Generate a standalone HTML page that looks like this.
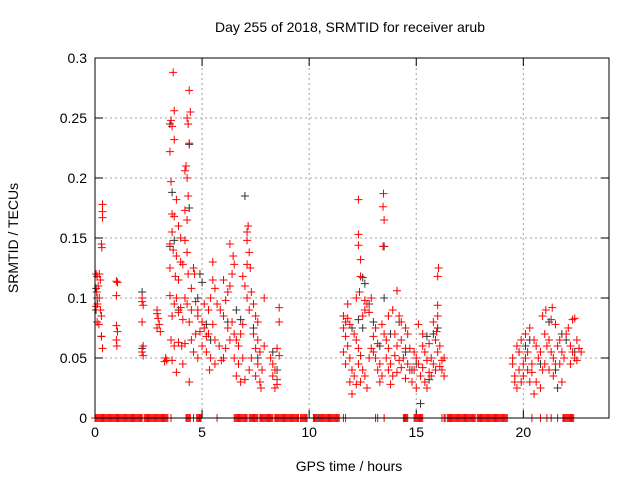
<!DOCTYPE html>
<html><head><meta charset="utf-8"><style>
body{margin:0;background:#fff;}
svg{display:block;font-family:"Liberation Sans",sans-serif;}
</style></head><body>
<svg id="chart" width="640" height="480" viewBox="0 0 640 480">
<rect x="0" y="0" width="640" height="480" fill="#fff"/>
<text x="350" y="32" font-size="14" text-anchor="middle">Day 255 of 2018, SRMTID for receiver arub</text>
<text transform="translate(18,238) rotate(-90)" font-size="14" text-anchor="middle">SRMTID / TECUs</text>
<text x="349" y="471" font-size="14" text-anchor="middle">GPS time / hours</text>
<g id="grid"></g><g id="ticks"></g><g id="marks"></g>
<rect x="95" y="58" width="514" height="360" fill="none" stroke="#000" stroke-width="1"/>
</svg>
<script>
const xTicks=[0,5,10,15,20];
const yTicks=[0,0.05,0.1,0.15,0.2,0.25,0.3];
const yTickLabels=["0","0.05","0.1","0.15","0.2","0.25","0.3"];
const redZeroX=[0,0.05,0.1,0.15,0.2,0.25,0.3,0.35,0.4,0.45,0.5,0.55,0.6,0.65,0.7,0.75,0.8,0.85,0.9,0.95,1.0,1.05,1.1,1.15,1.2,1.25,1.3,1.35,1.4,1.45,1.5,1.55,1.6,1.65,1.7,1.75,1.8,1.85,1.9,1.95,2.0,2.05,2.1,2.15,2.2,2.3,2.35,2.4,2.45,2.5,2.55,2.6,2.65,2.7,2.75,2.8,2.85,2.9,2.95,3.0,3.05,3.1,3.15,3.2,3.25,3.3,3.35,3.4,3.55,4.25,4.3,4.35,4.4,4.45,4.6,4.75,4.8,4.85,4.9,4.95,5.7,6.5,6.55,6.6,6.65,6.7,6.75,6.8,6.85,6.9,6.95,7.0,7.05,7.1,7.2,7.25,7.3,7.35,7.4,7.45,7.5,7.55,7.6,7.7,7.75,7.8,7.85,7.9,7.95,8.0,8.05,8.1,8.15,8.2,8.25,8.3,8.4,8.45,8.5,8.55,8.6,8.65,8.7,8.75,8.8,8.85,8.9,8.95,9.0,9.05,9.1,9.15,9.2,9.25,9.3,9.35,9.4,9.45,9.5,9.6,9.65,9.7,9.75,9.8,9.85,9.9,10.2,10.25,10.3,10.35,10.4,10.5,10.55,10.6,10.65,10.7,10.75,10.8,10.85,10.9,10.95,11.0,11.05,11.1,11.15,11.2,11.25,11.3,11.35,11.4,11.6,11.7,13.1,13.2,13.5,14.4,14.45,14.5,14.55,14.6,14.9,14.95,15.0,15.05,15.1,15.15,15.2,15.25,15.3,16.2,16.3,16.35,16.45,16.5,16.55,16.6,16.65,16.7,16.75,16.8,16.85,16.9,16.95,17.0,17.05,17.1,17.15,17.2,17.25,17.3,17.35,17.4,17.45,17.5,17.55,17.6,17.65,17.7,17.75,17.85,17.9,17.95,18.0,18.05,18.1,18.15,18.2,18.25,18.3,18.35,18.4,18.45,18.5,18.55,18.6,18.65,18.7,18.75,18.8,18.85,18.9,18.95,19.0,19.05,19.1,19.15,19.2,19.25,20.4,20.8,21.1,21.3,21.6,21.85,21.9,21.95,22.0,22.05,22.1,22.15,22.2,22.25,22.3,22.35];
const blackPts=[[0.05,0.108],[0.1,0.1],[0.3,0.068],[0.05,0.09],[2.2,0.105],[2.2,0.058],[3.5,0.245],[3.6,0.188],[3.5,0.143],[3.7,0.148],[4.4,0.228],[4.4,0.175],[3.9,0.09],[4.8,0.1],[4.9,0.12],[5.0,0.113],[5.2,0.078],[5.4,0.065],[6.2,0.08],[6.6,0.09],[6.8,0.082],[7.0,0.185],[7.4,0.075],[7.6,0.05],[8.3,0.055],[8.5,0.04],[12.3,0.082],[12.5,0.075],[12.5,0.117],[12.6,0.112],[12.8,0.095],[13.0,0.08],[13.3,0.06],[13.5,0.1],[13.5,0.143],[13.8,0.07],[14.2,0.08],[14.5,0.055],[15.0,0.045],[15.2,0.012],[15.5,0.068],[15.8,0.07],[16.0,0.075],[15.6,0.032],[12.0,0.075],[14.8,0.04],[19.8,0.055],[20.1,0.06],[20.3,0.065],[20.8,0.045],[21.5,0.04],[21.8,0.07],[22.0,0.065],[21.6,0.025],[21.2,0.08],[22.4,0.055],[4.85,0],[10.45,0]];
const redPts=[[0.05,0.12],[0.1,0.118],[0.15,0.11],[0.08,0.105],[0.2,0.1],[0.12,0.095],[0.25,0.09],[0.3,0.085],[0.18,0.078],[0.1,0.08],[0.3,0.068],[0.35,0.058],[0.35,0.178],[0.35,0.172],[0.35,0.167],[0.3,0.145],[0.32,0.142],[0.05,0.093],[0.2,0.12],[0.25,0.115],
[1.0,0.114],[1.05,0.113],[1.0,0.102],[1.0,0.077],[1.05,0.072],[1.0,0.065],[1.02,0.06],
[2.2,0.1],[2.2,0.097],[2.25,0.094],[2.2,0.08],[2.25,0.06],[2.2,0.055],[2.25,0.052],
[2.9,0.09],[2.9,0.087],[2.95,0.083],[3.0,0.078],[3.05,0.072],[2.9,0.075],[3.3,0.05],[3.25,0.047],[3.35,0.048],
[3.65,0.288],[4.4,0.273],[3.7,0.256],[4.45,0.255],[4.3,0.25],[4.35,0.245],[3.55,0.248],[3.6,0.243],[3.7,0.232],[4.4,0.229],[3.5,0.222],[4.25,0.21],[4.2,0.206],[4.3,0.2],[3.55,0.197],[3.8,0.182],[4.35,0.185],[3.6,0.17],[3.7,0.168],[4.2,0.173],[4.3,0.165],[3.9,0.16],[3.6,0.155],[4.0,0.15],[4.2,0.148],[3.5,0.145],[3.65,0.14],[3.8,0.135],[4.3,0.138],[4.0,0.13],[4.1,0.128],[3.5,0.125],[3.75,0.118],[4.35,0.12],[3.9,0.115],[4.6,0.125],[4.65,0.12],[4.5,0.108],[4.2,0.1],[3.8,0.1],[3.5,0.102],[3.7,0.095],[4.0,0.092],[4.3,0.095],[4.5,0.09],[4.7,0.097],[4.8,0.09],[3.6,0.085],[3.9,0.088],[4.1,0.082],[4.4,0.08],[4.8,0.085],[5.0,0.08],[3.55,0.065],[3.7,0.06],[3.9,0.063],[4.05,0.06],[4.2,0.062],[4.5,0.065],[4.7,0.07],[4.9,0.072],[5.1,0.075],[5.3,0.07],[3.6,0.048],[3.8,0.038],[4.1,0.045],[4.4,0.03],[4.6,0.055],[4.8,0.05],[5.0,0.06],[5.2,0.055],[5.4,0.05],[5.6,0.045],[5.2,0.068],[5.5,0.078],[5.6,0.065],[5.8,0.06],[5.9,0.048],[6.0,0.05],[5.35,0.04],[5.4,0.1],[5.5,0.13],[5.5,0.115],[5.6,0.108],[5.7,0.095],[5.85,0.09],[5.3,0.09],[5.1,0.095],[6.0,0.115],[6.1,0.098],[6.2,0.105],[6.3,0.11],[6.4,0.12],[6.5,0.128],[6.45,0.135],[6.3,0.145],[6.0,0.085],[6.2,0.075],[6.4,0.08],[6.5,0.07],[6.6,0.065],[6.7,0.06],[6.8,0.07],[6.9,0.078],[6.3,0.065],[6.1,0.058],[6.5,0.05],[6.7,0.045],[6.9,0.05],[6.6,0.035],[6.8,0.03],[7.0,0.032],[7.2,0.04],[7.1,0.155],[7.15,0.16],[7.1,0.148],[7.2,0.138],[7.1,0.128],[7.25,0.125],[6.9,0.118],[7.0,0.11],[7.1,0.1],[7.3,0.105],[7.4,0.095],[7.2,0.09],[7.5,0.085],[7.6,0.08],[7.4,0.07],[7.6,0.065],[7.5,0.058],[7.7,0.055],[7.3,0.05],[7.6,0.045],[7.8,0.04],[7.5,0.035],[7.7,0.03],[7.75,0.025],[7.9,0.1],[7.9,0.06],[8.2,0.05],[8.3,0.045],[8.4,0.04],[8.3,0.035],[8.5,0.032],[8.4,0.025],[8.5,0.028],[8.6,0.092],[8.6,0.08],[8.5,0.058],[8.6,0.052],
[12.3,0.182],[13.47,0.187],[13.45,0.176],[13.5,0.165],[12.3,0.153],[12.3,0.144],[13.45,0.143],[12.4,0.132],[16.04,0.125],[16.0,0.118],[12.4,0.118],[14.1,0.106],[16.0,0.094],
[11.6,0.085],[11.7,0.08],[11.6,0.075],[11.8,0.083],[11.9,0.078],[11.7,0.068],[11.8,0.06],[11.6,0.055],[11.9,0.05],[11.7,0.045],[12.0,0.04],[12.1,0.035],[11.9,0.03],[12.2,0.028],[12.0,0.02],[12.1,0.07],[12.2,0.065],[12.3,0.058],[12.4,0.052],[12.3,0.045],[12.5,0.04],[12.6,0.035],[12.4,0.03],[12.7,0.025],[12.5,0.085],[12.6,0.09],[12.7,0.095],[12.8,0.088],[12.9,0.1],[13.0,0.068],[13.1,0.075],[13.2,0.062],[13.0,0.055],[13.1,0.05],[13.3,0.045],[13.2,0.04],[13.4,0.035],[13.3,0.03],[13.5,0.07],[13.6,0.065],[13.4,0.078],[13.7,0.058],[13.6,0.05],[13.8,0.045],[13.7,0.04],[13.9,0.035],[13.8,0.028],[14.0,0.052],[14.1,0.06],[14.0,0.07],[14.2,0.048],[14.3,0.042],[14.1,0.038],[14.4,0.05],[14.5,0.058],[14.3,0.065],[14.6,0.045],[14.7,0.04],[14.5,0.033],[14.8,0.03],[14.7,0.058],[14.9,0.055],[15.0,0.05],[15.1,0.045],[14.9,0.04],[15.2,0.035],[15.0,0.025],[15.3,0.06],[15.4,0.055],[15.5,0.048],[15.3,0.042],[15.6,0.038],[15.4,0.03],[15.5,0.025],[15.7,0.05],[15.8,0.045],[15.9,0.04],[15.7,0.035],[16.0,0.055],[16.1,0.06],[15.9,0.065],[16.2,0.048],[16.3,0.05],[16.2,0.04],[16.3,0.035],[15.8,0.08],[16.0,0.085],[15.95,0.072],[12.2,0.1],[12.35,0.105],[12.6,0.098],[13.7,0.085],[13.9,0.09],[14.3,0.08],[14.5,0.075],[15.1,0.078],[15.3,0.07],[14.2,0.085],[12.9,0.058],[12.8,0.05],[14.6,0.07],[15.6,0.062],[16.1,0.043],[11.8,0.095],
[19.5,0.05],[19.5,0.045],[19.6,0.035],[19.6,0.03],[19.7,0.025],[19.8,0.04],[19.9,0.03],[19.7,0.06],[19.8,0.055],[20.0,0.045],[20.1,0.05],[20.2,0.04],[20.0,0.035],[20.3,0.03],[20.4,0.045],[20.2,0.055],[20.5,0.065],[20.6,0.06],[20.4,0.038],[20.7,0.05],[20.8,0.055],[20.6,0.03],[20.9,0.04],[21.0,0.045],[20.8,0.025],[21.1,0.06],[21.2,0.065],[21.0,0.07],[21.3,0.055],[21.4,0.05],[21.2,0.04],[21.5,0.045],[21.4,0.035],[21.3,0.082],[21.35,0.092],[21.5,0.078],[21.6,0.06],[21.7,0.065],[21.8,0.055],[21.9,0.05],[21.7,0.045],[22.0,0.07],[22.1,0.075],[22.3,0.082],[22.4,0.083],[22.2,0.06],[22.3,0.055],[22.5,0.065],[22.6,0.058],[22.4,0.05],[22.5,0.048],[22.7,0.055],[22.2,0.045],[20.1,0.07],[20.3,0.075],[19.9,0.065],[21.8,0.03],[20.5,0.02],[21.05,0.09],[20.9,0.085]];

const NS="http://www.w3.org/2000/svg";
const L=95,R=609,T=58,B=418,XMAX=24,YMAX=0.3;
function sx(v){return L+v/XMAX*(R-L);}
function sy(v){return B-v/YMAX*(B-T);}
function mk(tag,a,parent){const e=document.createElementNS(NS,tag);for(const k in a)e.setAttribute(k,a[k]);parent.appendChild(e);return e;}
const grid=document.getElementById('grid'),ticks=document.getElementById('ticks'),marks=document.getElementById('marks');
yTicks.forEach((v,i)=>{
 const y=sy(v);
 if(v>0&&v<YMAX){const g=mk('line',{x1:L,x2:R,y1:y,y2:y,stroke:'#a0a0a0','stroke-dasharray':'2,3'},grid);
 
 }
 mk('line',{x1:L,x2:L+8,y1:y,y2:y,stroke:'#000'},ticks);
 mk('line',{x1:R-8,x2:R,y1:y,y2:y,stroke:'#000'},ticks);
 const t=mk('text',{x:L-8,y:y+5,'font-size':14,'text-anchor':'end'},ticks);
 t.textContent=yTickLabels[i];
 
 
});
xTicks.forEach(v=>{
 const x=sx(v);
 if(v>0){const g=mk('line',{x1:x,x2:x,y1:T,y2:B,stroke:'#a0a0a0','stroke-dasharray':'2,3'},grid);
 
 }
 mk('line',{x1:x,x2:x,y1:B,y2:B-8,stroke:'#000'},ticks);
 mk('line',{x1:x,x2:x,y1:T,y2:T+8,stroke:'#000'},ticks);
 const t=mk('text',{x:x,y:B+19,'font-size':14,'text-anchor':'middle'},ticks);
 t.textContent=String(v);
 
 
});
function plus(x,y,col,name){
 const X=sx(x),Y=sy(y);
 const p=mk('path',{d:`M${X-4},${Y}h8M${X},${Y-4}v8`,stroke:col,'stroke-width':1,fill:'none'},marks);
 
 
}
blackPts.forEach(p=>plus(p[0],p[1],'#333','black-point'));
redPts.forEach(p=>plus(p[0],p[1],'#ff0000','red-point'));
redZeroX.forEach(x=>plus(x,0,'#ff0000','red-zero-point'));
</script>
</body></html>
